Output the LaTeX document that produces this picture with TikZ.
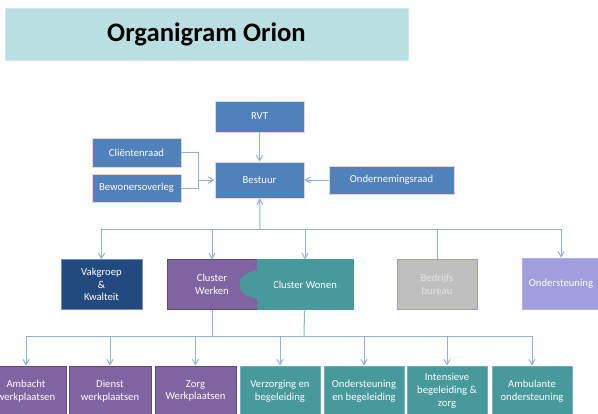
\documentclass[tikz,border=0pt]{standalone}
\usepackage{fontspec}
\setmainfont{Carlito}
\usepackage{tikz}
\usetikzlibrary{arrows}
\usetikzlibrary{positioning,shapes}

\definecolor{titel}{HTML}{B9DFE2}
\definecolor{blauw}{HTML}{4F81BD}
\definecolor{blauwrand}{HTML}{EDD2D2}
\definecolor{donker}{HTML}{234A7E}
\definecolor{donkerrand}{HTML}{6F8FBF}
\definecolor{paars}{HTML}{8064A2}
\definecolor{paarsrand}{HTML}{5E4A7A}
\definecolor{groen}{HTML}{47999C}
\definecolor{groenrand}{HTML}{6FB3B5}
\definecolor{grijs}{HTML}{BFBFBF}
\definecolor{grijsrand}{HTML}{9B97E6}
\definecolor{lila}{HTML}{A09EDC}
\definecolor{lijn}{HTML}{8FB2DC}

\begin{document}
\begin{tikzpicture}[x=0.75pt,y=-0.75pt,
  box/.style={text=white,font=\fontsize{8}{9.6}\selectfont,align=center,line width=0.6pt,inner sep=1pt},
  bestuurbox/.style={box,draw=blauwrand,fill=blauw,minimum width=66.75pt},
  top/.style={box,minimum height=37pt},
  onder/.style={box,minimum width=60pt,minimum height=37.5pt},
  lijnstuk/.style={draw=lijn,line width=0.75pt}]
\useasboundingbox (0,0) rectangle (598,413);
\clip (0,0) rectangle (598,413);
%
\node[draw=titel!70!white,fill=titel,minimum width=302.25pt,minimum height=39pt,font=\fontsize{20}{24}\selectfont\bfseries] (titel) at (206.5,34) {Organigram Orion};
%
\node[bestuurbox,minimum height=23.25pt] (RVT) at (259.5,116.5) {RVT};
\node[bestuurbox,minimum height=27pt] (bestuur) at (259.5,180) {Bestuur};
\node[bestuurbox,minimum height=21.75pt] (clienten) at (136.5,152.5) {Cliëntenraad};
\node[bestuurbox,minimum height=21pt] (bewoners) at (136.5,188) {Bewonersoverleg};
\node[bestuurbox,minimum width=93.75pt,minimum height=21pt] (OR) at (391.5,180) {Ondernemingsraad};
%
\node[top,draw=donkerrand,fill=donker,minimum width=60.75pt] (vakgroep) at (101.5,284.5) {Vakgroep\\\&\\Kwalteit};
\node[top,draw=paarsrand,fill=paars,minimum width=67.5pt] (werken) at (212,284.5) {Cluster\\Werken};
\node[top,draw=groen,fill=groen,minimum width=72pt] (wonen) at (305,284.5) {Cluster Wonen};
\fill[groen] (wonen.west) ellipse[x radius=12.75pt,y radius=10.1pt];
\node[top,draw=grijsrand,fill=grijs,text=white!90!black,minimum width=60pt,minimum height=37.5pt] (bedrijf) at (437,284) {Bedrijfs\\bureau};
\node[top,draw=lila!80!white,fill=lila,minimum width=58.5pt,minimum height=38.25pt] (ondersteuning) at (561,283.5) {Ondersteuning};
%
\node[onder,draw=paarsrand,fill=paars] (ambacht) at (26,391) {Ambacht\\werkplaatsen};
\node[onder,draw=paarsrand,fill=paars,minimum width=61.5pt] (dienst) at (110,391) {Dienst\\werkplaatsen};
\node[onder,draw=paarsrand,fill=paars,minimum width=60.75pt] (zorg) at (195.5,391) {Zorg\\Werkplaatsen};
\node[onder,draw=groenrand,fill=groen] (verzorging) at (280,391) {Verzorging en\\begeleiding};
\node[onder,draw=groenrand,fill=groen] (begeleiding) at (364,391) {Ondersteuning\\en begeleiding};
\node[onder,draw=groenrand,fill=groen] (intensief) at (447,391) {Intensieve\\begeleiding \&\\zorg};
\node[onder,draw=groenrand,fill=groen] (ambulant) at (532,391) {Ambulante\\ondersteuning};
%
\coordinate (raden) at (198,180);
\coordinate (bus) at (260,229);
\coordinate (wk) at (212,336.5);
\coordinate (wn) at (304,336.5);
%
{
\pgfsetarrows{-}
\path (clienten.east) edge[lijnstuk,to path={-| (\tikztotarget)}] (raden);
\path (bewoners.east) edge[lijnstuk,to path={-| (\tikztotarget)}] (raden);
\path (bus) edge[lijnstuk,to path={-| (\tikztotarget)}] (bedrijf);
\path (werken) edge[lijnstuk] (wk);
\path (wonen) edge[lijnstuk] (wn);
\path (wk) edge[lijnstuk] (wn);
%
\pgfsetarrows{-angle 60}
\path (RVT) edge[lijnstuk] (bestuur);
\path (raden) edge[lijnstuk] (bestuur);
\path (OR) edge[lijnstuk] (bestuur);
\path (bus) edge[lijnstuk] (bestuur);
\path (bus) edge[lijnstuk,to path={-| (\tikztotarget)}] (vakgroep);
\path (bus) edge[lijnstuk,to path={-| (\tikztotarget)}] (werken);
\path (bus) edge[lijnstuk,to path={-| (\tikztotarget)}] (wonen);
\path (bus) edge[lijnstuk,to path={-| (\tikztotarget)}] (ondersteuning);
%
\path (wk) edge[lijnstuk,to path={-| (\tikztotarget)}] (ambacht);
\path (wk) edge[lijnstuk,to path={-| (\tikztotarget)}] (dienst);
\path (wk) edge[lijnstuk,to path={-| (\tikztotarget)}] (zorg);
\path (wn) edge[lijnstuk,to path={-| (\tikztotarget)}] (verzorging);
\path (wn) edge[lijnstuk,to path={-| (\tikztotarget)}] (begeleiding);
\path (wn) edge[lijnstuk,to path={-| (\tikztotarget)}] (intensief);
\path (wn) edge[lijnstuk,to path={-| (\tikztotarget)}] (ambulant);
}
\end{tikzpicture}
\end{document}
